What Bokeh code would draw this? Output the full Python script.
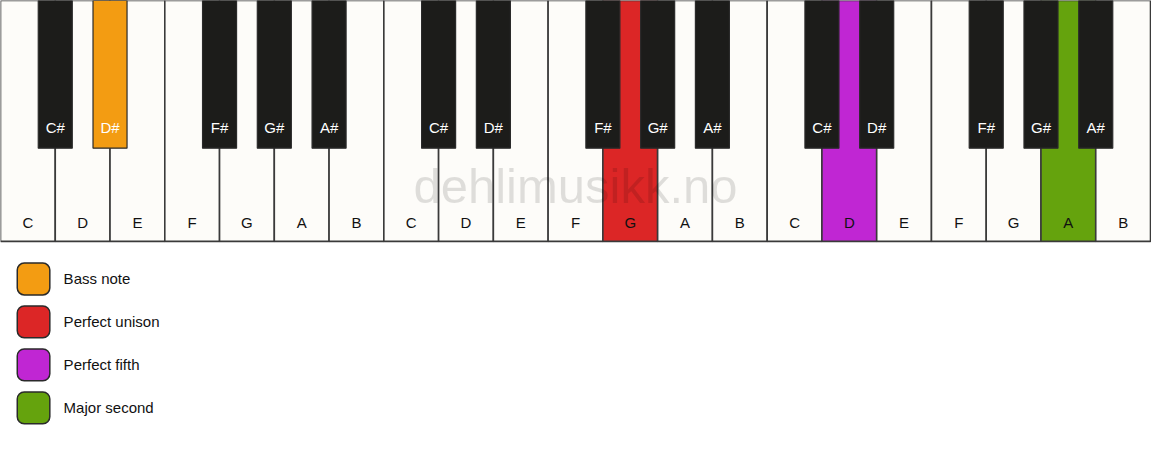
from bokeh.plotting import figure
from bokeh.models import Range1d
from bokeh.core.properties import value
from bokeh.embed import file_html
from bokeh.resources import INLINE

# ---- data ----
white_notes = ["C", "D", "E", "F", "G", "A", "B"] * 3
black_notes = ["C#", "D#", "F#", "G#", "A#"] * 3
black_after_white = [1, 2, 4, 5, 6]  # boundary index within an octave
highlight_white = {11: "#dc2626", 15: "#c026d3", 19: "#65a30d"}  # G, D, A
highlight_black = {1: "#f39c12"}  # first D#
legend_labels = ["Bass note", "Perfect unison", "Perfect fifth", "Major second"]
legend_colors = ["#f39c12", "#dc2626", "#c026d3", "#65a30d"]
watermark = "dehlimusikk.no"

FONT = value("Liberation Sans")
KEYS_W = 1166.0
W = KEYS_W / len(white_notes)
WHITE_H = 249.5
BLACK_H = 153.0
BW = 34.5

p = figure(width=1151, height=445, output_backend="svg", toolbar_location=None,
           x_range=Range1d(0, 1167), y_range=Range1d(461, 0), min_border=0)
p.axis.visible = False
p.grid.visible = False
p.outline_line_color = None
p.background_fill_color = "white"
p.border_fill_color = "white"

# white keys
wl = [i * W for i in range(len(white_notes))]
wr = [(i + 1) * W for i in range(len(white_notes))]
wfill = [highlight_white.get(i, "#fdfcf9") for i in range(len(white_notes))]
p.quad(left=wl, right=wr, top=[0] * len(wl), bottom=[WHITE_H] * len(wl),
       fill_color=wfill, line_color="#3a3a3a", line_width=1.6)

# watermark
p.text(x=[583], y=[192], text=[watermark], text_font=FONT, text_font_size="49px",
       text_color="black", text_alpha=0.12, text_align="center", text_baseline="middle")

# white labels
p.text(x=[(i + 0.5) * W for i in range(len(white_notes))], y=[230] * len(white_notes),
       text=white_notes, text_font=FONT, text_font_size="15px", text_color="#111111",
       text_align="center", text_baseline="middle")

# black keys
bx = []
for octave in range(3):
    for b in black_after_white:
        bx.append((octave * 7 + b) * W)
bfill = [highlight_black.get(i, "#1c1c1a") for i in range(len(bx))]
p.quad(left=[x - BW / 2 for x in bx], right=[x + BW / 2 for x in bx],
       top=[0] * len(bx), bottom=[BLACK_H] * len(bx),
       fill_color=bfill, line_color="#2a2a2a", line_width=1.2)
p.text(x=bx, y=[132] * len(bx), text=black_notes, text_font=FONT, text_font_size="15px",
       text_color="white", text_align="center", text_baseline="middle")

# legend
ly = [288.5 + 44.5 * i for i in range(len(legend_labels))]
p.quad(left=[17] * 4, right=[50] * 4, top=[y - 16.5 for y in ly], bottom=[y + 16.5 for y in ly],
       fill_color=legend_colors, line_color="#2a2a2a", line_width=1.5, border_radius=7)
p.text(x=[64] * 4, y=ly, text=legend_labels, text_font=FONT, text_font_size="15px",
       text_color="#111111", text_align="left", text_baseline="middle")

open("out.html", "w").write(file_html(p, INLINE))
